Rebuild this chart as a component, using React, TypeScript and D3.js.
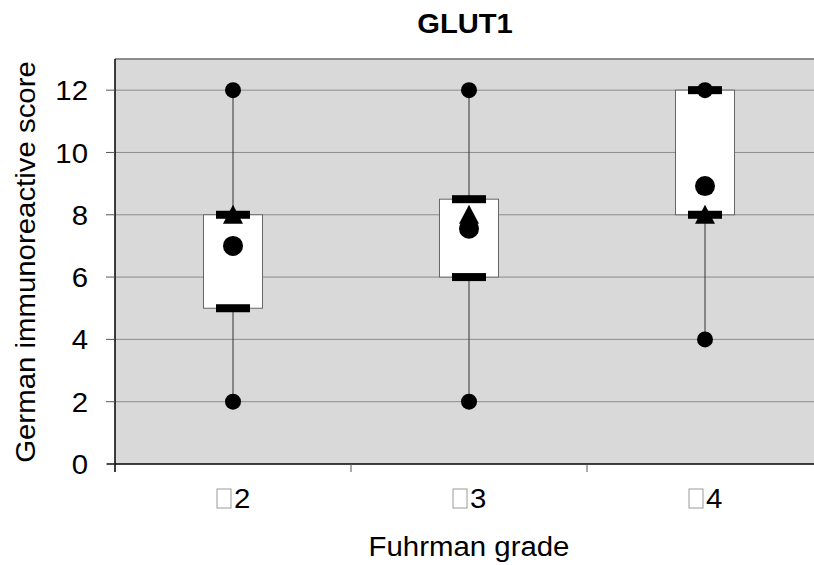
import { useEffect, useRef } from "react"
import * as d3 from "d3"

// Fuhrman grade groups (the first glyph of each label is an unrenderable symbol in the source)
const categories = ["2", "3", "4"]
const mins = [2, 2, 4]
const q1s = [5, 6, 8]
const medians = [8, 8, 8]
const q3s = [8, 8.5, 12]
const maxs = [12, 12, 12]
const means = [7.0, 7.55, 8.92]
const yTicks = [0, 2, 4, 6, 8, 10, 12]

const GlutChart = () => {
	const svgRef = useRef(null)

	useEffect(() => {
		const svg = d3.select(svgRef.current)
		svg.selectAll("*").remove()

		const width = 814
		const height = 565
		const left = 115
		const top = 59
		const bottom = 464
		const band = 236
		const font = "'Liberation Sans', Arial, sans-serif"

		svg.attr("width", width).attr("height", height)

		const x = d3
			.scaleBand()
			.domain(categories)
			.range([left, left + band * categories.length])
			.padding(0)
		const y = d3.scaleLinear().domain([0, 13]).range([bottom, top])

		// plot area
		svg.append("rect")
			.attr("x", left)
			.attr("y", top)
			.attr("width", width - left + 10)
			.attr("height", bottom - top)
			.attr("fill", "#d9d9d9")

		// grid lines
		svg.selectAll("line.grid")
			.data(yTicks.filter(d => d > 0))
			.enter()
			.append("line")
			.attr("x1", left)
			.attr("x2", width)
			.attr("y1", d => y(d))
			.attr("y2", d => y(d))
			.attr("stroke", "#8c8c8c")
			.attr("stroke-width", 1)

		// top border
		svg.append("line")
			.attr("x1", left)
			.attr("x2", width)
			.attr("y1", top)
			.attr("y2", top)
			.attr("stroke", "#8c8c8c")
			.attr("stroke-width", 2)

		const groups = categories.map((c, i) => ({
			c,
			min: mins[i],
			q1: q1s[i],
			med: medians[i],
			q3: q3s[i],
			max: maxs[i],
			mean: means[i],
		}))

		const cx = (d: any) => (x(d.c) as number) + x.bandwidth() / 2

		// whiskers
		svg.selectAll("line.whisker")
			.data(groups)
			.enter()
			.append("line")
			.attr("x1", cx)
			.attr("x2", cx)
			.attr("y1", d => y(d.min))
			.attr("y2", d => y(d.max))
			.attr("stroke", "#333")
			.attr("stroke-width", 1)

		// boxes
		const boxW = 59
		svg.selectAll("rect.box")
			.data(groups)
			.enter()
			.append("rect")
			.attr("x", d => cx(d) - boxW / 2)
			.attr("y", d => y(d.q3))
			.attr("width", boxW)
			.attr("height", d => y(d.q1) - y(d.q3))
			.attr("fill", "#fff")
			.attr("stroke", "#666")
			.attr("stroke-width", 1)

		// quartile bars
		const barW = 34
		const barH = 8
		groups.forEach(d => {
			;[d.q1, d.q3].forEach(v => {
				svg.append("rect")
					.attr("x", cx(d) - barW / 2)
					.attr("y", y(v) - barH / 2)
					.attr("width", barW)
					.attr("height", barH)
					.attr("fill", "#000")
			})
		})

		// median triangles
		svg.selectAll("path.median")
			.data(groups)
			.enter()
			.append("path")
			.attr("d", d => {
				const px = cx(d)
				const py = y(d.med)
				return `M${px},${py - 10}L${px + 10},${py + 9}L${px - 10},${py + 9}Z`
			})
			.attr("fill", "#000")

		// means
		svg.selectAll("circle.mean")
			.data(groups)
			.enter()
			.append("circle")
			.attr("cx", cx)
			.attr("cy", d => y(d.mean))
			.attr("r", 10)
			.attr("fill", "#000")

		// min / max
		groups.forEach(d => {
			;[d.min, d.max].forEach(v => {
				svg.append("circle")
					.attr("cx", cx(d))
					.attr("cy", y(v))
					.attr("r", 8)
					.attr("fill", "#000")
			})
		})

		// axes
		svg.append("line")
			.attr("x1", left)
			.attr("x2", left)
			.attr("y1", top)
			.attr("y2", bottom + 8)
			.attr("stroke", "#000")
			.attr("stroke-width", 1.5)
		svg.append("line")
			.attr("x1", left - 8)
			.attr("x2", width)
			.attr("y1", bottom)
			.attr("y2", bottom)
			.attr("stroke", "#000")
			.attr("stroke-width", 1.5)

		svg.selectAll("line.ytick")
			.data(yTicks)
			.enter()
			.append("line")
			.attr("x1", left - 9)
			.attr("x2", left)
			.attr("y1", d => y(d))
			.attr("y2", d => y(d))
			.attr("stroke", "#555")

		svg.selectAll("line.xtick")
			.data(categories.slice(1))
			.enter()
			.append("line")
			.attr("x1", d => x(d) as number)
			.attr("x2", d => x(d) as number)
			.attr("y1", bottom)
			.attr("y2", bottom + 8)
			.attr("stroke", "#555")

		const stretch = "scale(1.05,1)"

		svg.selectAll("text.ylab")
			.data(yTicks)
			.enter()
			.append("text")
			.attr("transform", d => `translate(88,${y(d)}) ${stretch}`)
			.attr("dy", "0.36em")
			.attr("text-anchor", "end")
			.attr("font-family", font)
			.attr("font-size", 28)
			.attr("fill", "#000")
			.text(d => d)

		// category labels: missing-glyph box + grade number
		const xl = svg.selectAll("g.xlab")
			.data(categories)
			.enter()
			.append("g")
			.attr("transform", d => `translate(${(x(d) as number) + x.bandwidth() / 2},508)`)
		xl.append("rect")
			.attr("x", -16)
			.attr("y", -19)
			.attr("width", 14)
			.attr("height", 19)
			.attr("fill", "none")
			.attr("stroke", "#9a9a9a")
			.attr("stroke-width", 1)
		xl.append("text")
			.attr("transform", `translate(1,0) ${stretch}`)
			.attr("font-family", font)
			.attr("font-size", 28)
			.attr("fill", "#000")
			.text(d => d)

		svg.append("text")
			.attr("transform", `translate(469,556) ${stretch}`)
			.attr("text-anchor", "middle")
			.attr("font-family", font)
			.attr("font-size", 28)
			.text("Fuhrman grade")

		svg.append("text")
			.attr("transform", `translate(35,262) rotate(-90) ${stretch}`)
			.attr("text-anchor", "middle")
			.attr("font-family", font)
			.attr("font-size", 28)
			.text("German immunoreactive score")

		svg.append("text")
			.attr("transform", `translate(465,33) scale(1.08,1)`)
			.attr("text-anchor", "middle")
			.attr("font-family", font)
			.attr("font-size", 27)
			.attr("font-weight", "bold")
			.text("GLUT1")
	}, [])

	return <svg ref={svgRef} style={{ position: "absolute", left: 0, top: 0, display: "block" }}></svg>
}

export default function App() {
	return <GlutChart />
}
